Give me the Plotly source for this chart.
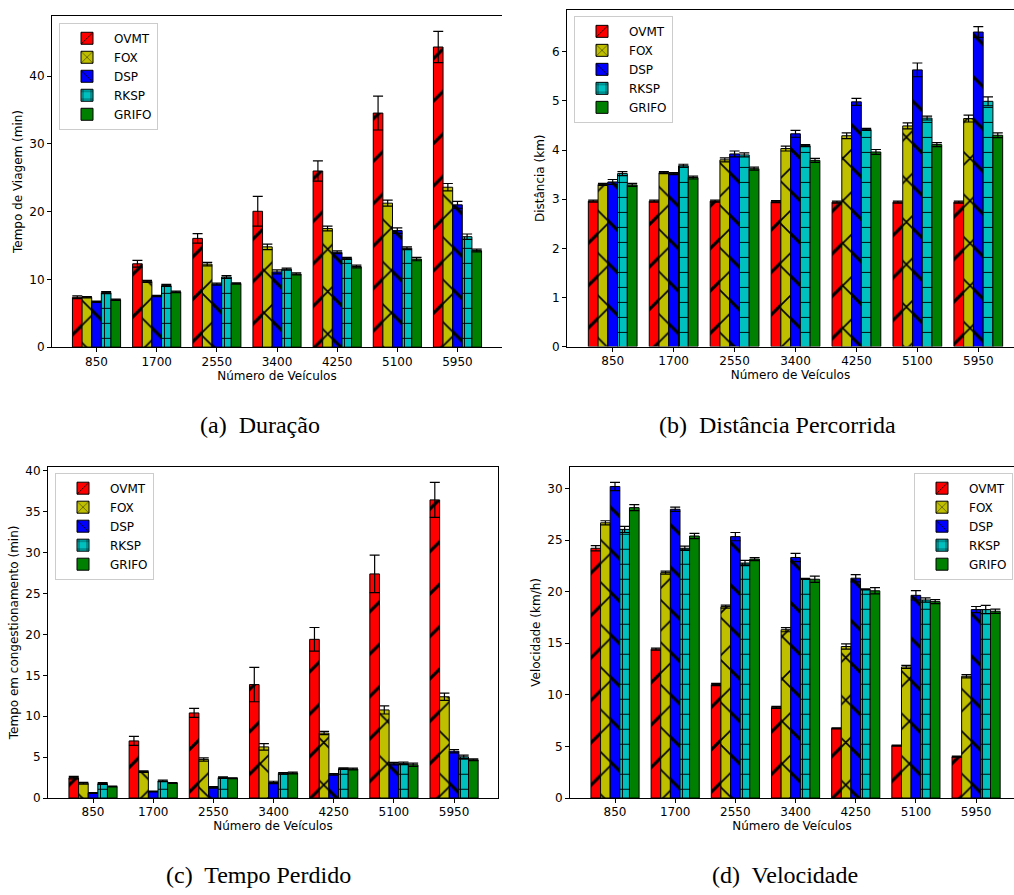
import plotly.graph_objects as go

categories = ["850", "1700", "2550", "3400", "4250", "5100", "5950"]
series_names = ["OVMT", "FOX", "DSP", "RKSP", "GRIFO"]

# (a) Duração - Tempo de Viagem (min)
dur_ovmt = [7.35, 12.3, 16.05, 20.05, 26.0, 34.55, 44.3]
dur_fox = [7.35, 9.7, 12.25, 14.8, 17.5, 21.25, 23.6]
dur_dsp = [6.7, 7.55, 9.3, 11.1, 14.0, 17.2, 21.0]
dur_rksp = [8.05, 9.1, 10.35, 11.5, 13.1, 14.6, 16.3]
dur_grifo = [7.0, 8.15, 9.4, 10.8, 11.9, 13.0, 14.25]
dur_ovmt_err = [0.2, 0.5, 0.7, 2.2, 1.5, 2.5, 2.3]
dur_fox_err = [0.1, 0.15, 0.25, 0.4, 0.35, 0.45, 0.55]
dur_dsp_err = [0.1, 0.1, 0.15, 0.3, 0.2, 0.4, 0.5]
dur_rksp_err = [0.15, 0.15, 0.2, 0.15, 0.15, 0.2, 0.4]
dur_grifo_err = [0.1, 0.1, 0.1, 0.15, 0.2, 0.25, 0.2]

# (b) Distância Percorrida (km)
dist_ovmt = [2.96, 2.96, 2.96, 2.95, 2.94, 2.94, 2.94]
dist_fox = [3.30, 3.54, 3.80, 4.03, 4.29, 4.49, 4.64]
dist_dsp = [3.35, 3.52, 3.92, 4.33, 4.98, 5.63, 6.40]
dist_rksp = [3.52, 3.68, 3.90, 4.09, 4.42, 4.65, 4.99]
dist_grifo = [3.29, 3.44, 3.62, 3.79, 3.96, 4.11, 4.30]
dist_ovmt_err = [0.02, 0.02, 0.02, 0.02, 0.02, 0.02, 0.02]
dist_fox_err = [0.02, 0.02, 0.04, 0.05, 0.06, 0.06, 0.07]
dist_dsp_err = [0.05, 0.02, 0.06, 0.07, 0.07, 0.14, 0.11]
dist_rksp_err = [0.04, 0.03, 0.04, 0.02, 0.02, 0.04, 0.09]
dist_grifo_err = [0.03, 0.03, 0.03, 0.04, 0.05, 0.04, 0.05]

# (c) Tempo Perdido - Tempo em congestionamento (min)
cong_ovmt = [2.5, 6.98, 10.4, 13.87, 19.4, 27.4, 36.45]
cong_fox = [1.81, 3.23, 4.72, 6.25, 7.94, 10.77, 12.38]
cong_dsp = [0.6, 0.8, 1.3, 1.9, 2.9, 4.2, 5.73]
cong_rksp = [1.77, 2.1, 2.5, 3.02, 3.6, 4.23, 5.04]
cong_grifo = [1.41, 1.85, 2.42, 3.06, 3.55, 4.07, 4.68]
cong_ovmt_err = [0.15, 0.55, 0.55, 2.1, 1.45, 2.3, 2.15]
cong_fox_err = [0.1, 0.1, 0.2, 0.4, 0.2, 0.5, 0.45]
cong_dsp_err = [0.05, 0.05, 0.1, 0.15, 0.1, 0.15, 0.2]
cong_rksp_err = [0.1, 0.1, 0.1, 0.1, 0.1, 0.15, 0.2]
cong_grifo_err = [0.05, 0.05, 0.05, 0.1, 0.1, 0.2, 0.1]

# (d) Velocidade (km/h)
vel_ovmt = [24.2, 14.42, 11.0, 8.79, 6.75, 5.08, 4.0]
vel_fox = [26.67, 21.84, 18.55, 16.31, 14.68, 12.7, 11.8]
vel_dsp = [30.19, 27.98, 25.33, 23.31, 21.3, 19.64, 18.26]
vel_rksp = [26.03, 24.2, 22.77, 21.23, 20.21, 19.19, 18.26]
vel_grifo = [28.14, 25.39, 23.15, 21.2, 20.08, 19.03, 18.1]
vel_ovmt_err = [0.25, 0.1, 0.1, 0.1, 0.05, 0.05, 0.05]
vel_fox_err = [0.2, 0.15, 0.15, 0.2, 0.25, 0.15, 0.15]
vel_dsp_err = [0.4, 0.2, 0.4, 0.4, 0.35, 0.45, 0.3]
vel_rksp_err = [0.3, 0.2, 0.25, 0.05, 0.05, 0.2, 0.4]
vel_grifo_err = [0.3, 0.25, 0.15, 0.3, 0.3, 0.2, 0.2]

x_title = "Número de Veículos"
y_titles = ["Tempo de Viagem (min)", "Distância (km)",
            "Tempo em congestionamento (min)", "Velocidade (km/h)"]
captions = ["(a)&nbsp; Duração", "(b)&nbsp; Distância Percorrida",
            "(c)&nbsp; Tempo Perdido", "(d)&nbsp; Velocidade"]

panels = [
    ([dur_ovmt, dur_fox, dur_dsp, dur_rksp, dur_grifo],
     [dur_ovmt_err, dur_fox_err, dur_dsp_err, dur_rksp_err, dur_grifo_err]),
    ([dist_ovmt, dist_fox, dist_dsp, dist_rksp, dist_grifo],
     [dist_ovmt_err, dist_fox_err, dist_dsp_err, dist_rksp_err, dist_grifo_err]),
    ([cong_ovmt, cong_fox, cong_dsp, cong_rksp, cong_grifo],
     [cong_ovmt_err, cong_fox_err, cong_dsp_err, cong_rksp_err, cong_grifo_err]),
    ([vel_ovmt, vel_fox, vel_dsp, vel_rksp, vel_grifo],
     [vel_ovmt_err, vel_fox_err, vel_dsp_err, vel_rksp_err, vel_grifo_err]),
]

colors = ["#ff0000", "#bfbf00", "#0000ff", "#00bfbf", "#008000"]
shapes = ["/", "x", "\\", "+", ""]
psizes = [30, 30, 30, 15, 10]
psolid = [0.105, 0.105, 0.105, 0.12, 0.1]

W, H = 1014, 895
# pixel layout of each axes box: left, right, top, bottom
boxes = [(52, 502, 13, 348), (567, 1014, 7, 347.5),
         (48, 498, 469, 804), (570, 1014, 469, 804)]
xranges = [[-0.74, 6.74], [-0.75, 6.586], [-0.748, 6.73], [-0.748, 6.63]]
yranges = [[0, 48.9], [0, 6.85], [0, 40.5], [0, 32.1]]
ydticks = [10, 1, 5, 5]
right_spine = [False, False, True, False]
legend_pos = [(59, 20, "left"), (574, 13, "left"), (55, 475, "left"), (1013, 475, "right")]
caption_pos = [(260, 427), (777, 427), (258, 882), (785, 882)]

font = "DejaVu Sans"
fig = go.Figure()

for p, (vals, errs) in enumerate(panels):
    ax = "" if p == 0 else str(p + 1)
    leg = "legend" if p == 0 else "legend" + str(p + 1)
    for s in range(5):
        fig.add_trace(go.Bar(
            x=categories, y=vals[s], name=series_names[s],
            xaxis="x" + ax, yaxis="y" + ax, legend=leg,
            offsetgroup=str(s),
            marker=dict(color=colors[s], line=dict(color="black", width=1),
                        pattern=dict(shape=shapes[s], fillmode="overlay",
                                     fgcolor="black", bgcolor=colors[s],
                                     fgopacity=1,
                                     size=psizes[s], solidity=psolid[s])),
            error_y=dict(type="data", array=errs[s], color="black",
                         thickness=1.2, width=5, visible=True),
        ))

layout = dict(
    width=W, height=H, margin=dict(l=0, r=0, t=0, b=0),
    paper_bgcolor="white", plot_bgcolor="white",
    barmode="group", bargap=0.2, bargroupgap=0.0,
    font=dict(family=font, size=12, color="black"),
    showlegend=True,
)
annotations = []
for p in range(4):
    ax = "" if p == 0 else str(p + 1)
    l, r, t, b = boxes[p]
    layout["xaxis" + ax] = dict(
        domain=[l / W, r / W], anchor="y" + ax, type="category",
        range=xranges[p], showline=True, linecolor="black", linewidth=1,
        mirror=True, ticks="outside", ticklen=4, tickcolor="black",
        showgrid=False, zeroline=False, tickfont=dict(size=12),
        ticklabelstandoff=-1,
        title=dict(text=x_title, font=dict(size=12), standoff=3),
    )
    layout["yaxis" + ax] = dict(
        domain=[1 - b / H, 1 - t / H], anchor="x" + ax,
        range=yranges[p], dtick=ydticks[p], showline=True, linecolor="black",
        linewidth=1, mirror=right_spine[p], ticks="outside", ticklen=4,
        tickcolor="black", showgrid=False, zeroline=False,
        tickfont=dict(size=12),
        title=dict(text=y_titles[p], font=dict(size=12), standoff=4),
    )
    lx, ly, anc = legend_pos[p]
    leg = "legend" if p == 0 else "legend" + str(p + 1)
    layout[leg] = dict(
        x=lx / W, y=1 - ly / H, xanchor=anc, yanchor="top",
        bgcolor="rgba(255,255,255,0.8)", bordercolor="#cccccc", borderwidth=1,
        font=dict(family=font, size=12), tracegroupgap=0,
        traceorder="normal", itemwidth=44,
    )
    cx, cy = caption_pos[p]
    annotations.append(dict(
        text=captions[p], x=cx / W, y=1 - cy / H, xref="paper", yref="paper",
        showarrow=False, xanchor="center", yanchor="middle",
        font=dict(family="Liberation Serif", size=24, color="black"),
    ))
layout["annotations"] = annotations
fig.update_layout(**layout)
fig.write_html("out.html", config={"displayModeBar": False},
               post_script="document.body.style.margin='0';document.body.style.overflow='hidden';")
